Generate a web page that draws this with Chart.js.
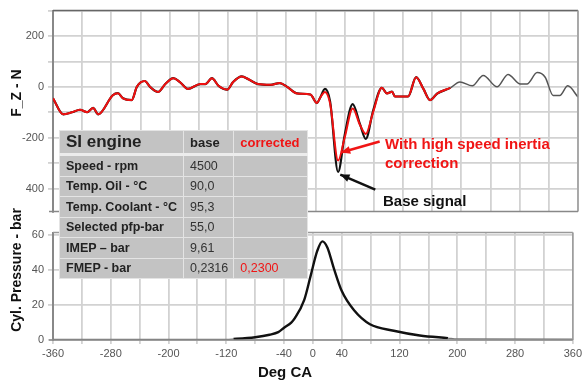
<!DOCTYPE html>
<html>
<head>
<meta charset="utf-8">
<script src="https://cdn.jsdelivr.net/npm/chart.js@4.4.1/dist/chart.umd.min.js"></script>
<style>
  body { margin: 0; background: #fff; font-family: "Liberation Sans", Arial, sans-serif; }
  #wrap { position: relative; width: 585px; height: 380px; overflow: hidden; }
  canvas { position: absolute; left: 0; }
  .ytitle { position: absolute; font-weight: bold; font-size: 14px; color: #111; white-space: nowrap;
            transform: translate(-50%, -50%) rotate(-90deg); line-height: 14px; }
  #xtitle { position: absolute; left: 285px; top: 364px; transform: translateX(-50%);
            font-weight: bold; font-size: 15px; color: #111; line-height: 15px; }
  table { position: absolute; left: 59px; top: 130px; width: 249px; border-collapse: collapse; }
  td { background: #c3c3c3; border: 1px solid #e4e4e4; padding: 0 0 0 6px; height: 19.5px;
       font-size: 12.5px; color: #333; white-space: nowrap; }
  td.lab { font-weight: bold; color: #222; width: 117px; }
  tr.head td { height: 22px; border-bottom: 3px solid #ececec; font-weight: bold; font-size: 13px; color: #222; }
  tr.head td.lab { font-size: 17px; }
  .red { color: #f01515 !important; }
</style>
</head>
<body>
<div id="wrap">
  <canvas id="forceChart" width="585" height="222" style="top:0"></canvas>
  <canvas id="pressChart" width="585" height="158" style="top:222px"></canvas>
  <div class="ytitle" style="left:16px;top:93px">F_Z - N</div>
  <div class="ytitle" style="left:16px;top:270px">Cyl. Pressure - bar</div>
  <div id="xtitle">Deg CA</div>
  <table id="info"></table>
</div>
<script>
// crank angle axis
const xTickLabels = [-360, -280, -200, -120, -40, 0, 40, 120, 200, 280, 360];

// F_Z force signal (N)
const forceDeg = [-360, -346, -334, -323, -313, -305, -298, -278, -271, -264, -252, -245, -234, -227, -216,
  -206, -195, -186, -175, -158, -151, -142, -133, -121, -113, -101, -92, -79, -62, -49, -39, -25, -7, 2, 6,
  13, 20, 31, 40, 51, 61, 69, 79, 91, 98, 105, 109, 116, 127, 138, 148, 157, 167, 185,
  198, 215, 230, 249, 264, 281, 290, 304, 315, 326, 335, 346, 360];
const baseForce = [-45, -108, -100, -90, -100, -83, -108, -33, -25, -45, -52, 0, 23, 0, -20,
  11, 34, 19, -8, 11, 11, 34, 4, -11, 19, 41, 30, 11, 8, 15, 0, -26, -30, -64, -45,
  -8, -57, -335, -190, -68, -147, -205, -94, -4, -26, -19, -38, -38, -38, 38, -8, -52, -26, -4,
  19, 4, 45, 0, 49, 11, 11, 56, 38, -34, -34, 4, -40];
const corrForce = [-45, -108, -100, -90, -100, -83, -108, -33, -25, -45, -52, 0, 23, 0, -20,
  11, 34, 19, -8, 11, 11, 34, 4, -11, 19, 41, 30, 11, 8, 15, 0, -26, -30, -64, -45,
  -20, -65, -290, -200, -85, -150, -185, -100, -4, -26, -19, -38, -38, -38, 38, -8, -52, -26, -4,
  null, null, null, null, null, null, null, null, null, null, null, null, null];
const forceTicks = [-400, -300, -200, -100, 0, 100, 200, 300];
const forceTickText = { "200": "200", "0": "0", "-200": "-200", "-400": "400" };

// cylinder pressure (bar)
const pressDeg = [-360, -120, -110, -80, -60, -48, -40, -30, -25, -12, -3, 6, 13, 20, 29, 40, 57, 79, 112, 148, 187, 200, 360];
const pressVal = [0.4, 0.4, 0.6, 1.6, 3, 4.5, 7, 10, 12.5, 23, 37, 51, 56.5, 53, 41, 28, 17, 9, 5.3, 2.6, 1.1, 0.6, 0.5];
const pressTicks = [0, 20, 40, 60];

// table
const tableRows = [
  ["SI engine", "base", "corrected"],
  ["Speed - rpm", "4500", ""],
  ["Temp. Oil - °C", "90,0", ""],
  ["Temp. Coolant - °C", "95,3", ""],
  ["Selected pfp-bar", "55,0", ""],
  ["IMEP – bar", "9,61", ""],
  ["FMEP - bar", "0,2316", "0,2300"]
];

const table = document.getElementById("info");
tableRows.forEach((row, i) => {
  const tr = document.createElement("tr");
  if (i === 0) tr.className = "head";
  row.forEach((cell, j) => {
    const td = document.createElement("td");
    td.textContent = cell;
    if (j === 0) td.className = "lab";
    if (j === 2) td.classList.add("red");
    tr.appendChild(td);
  });
  table.appendChild(tr);
});

const gridColor = "#d2d2d2";
const tickFont = { family: "Liberation Sans, Arial", size: 11 };

// top and right border of each panel
const frame = {
  id: "frame",
  afterDraw(chart, args, opts) {
    const { ctx, chartArea: a } = chart;
    ctx.save();
    ctx.lineWidth = 1.5;
    ctx.strokeStyle = opts.top;
    ctx.beginPath();
    ctx.moveTo(a.left, a.top);
    ctx.lineTo(a.right, a.top);
    ctx.stroke();
    ctx.strokeStyle = "#9a9a9a";
    ctx.beginPath();
    ctx.moveTo(a.right, a.top);
    ctx.lineTo(a.right, a.bottom);
    ctx.stroke();
    ctx.strokeStyle = "#888";
    ctx.beginPath();
    ctx.moveTo(a.left - 4, a.bottom);
    ctx.lineTo(a.right, a.bottom);
    ctx.stroke();
    ctx.restore();
  }
};

function arrow(ctx, x0, y0, x1, y1, color) {
  ctx.strokeStyle = color;
  ctx.fillStyle = color;
  ctx.lineWidth = 2.5;
  ctx.beginPath();
  ctx.moveTo(x0, y0);
  ctx.lineTo(x1, y1);
  ctx.stroke();
  const ang = Math.atan2(y1 - y0, x1 - x0);
  ctx.beginPath();
  ctx.moveTo(x1, y1);
  ctx.lineTo(x1 - 10 * Math.cos(ang - 0.4), y1 - 10 * Math.sin(ang - 0.4));
  ctx.lineTo(x1 - 10 * Math.cos(ang + 0.4), y1 - 10 * Math.sin(ang + 0.4));
  ctx.closePath();
  ctx.fill();
}

const notes = {
  id: "notes",
  afterDatasetsDraw(chart) {
    const { ctx, scales: { x, y } } = chart;
    ctx.save();
    arrow(ctx, x.getPixelForValue(88), y.getPixelForValue(-215), x.getPixelForValue(35), y.getPixelForValue(-258), "#f01515");
    arrow(ctx, x.getPixelForValue(82), y.getPixelForValue(-404), x.getPixelForValue(34), y.getPixelForValue(-345), "#111");
    ctx.font = "bold 15px Liberation Sans, Arial";
    ctx.textBaseline = "middle";
    ctx.fillStyle = "#f01515";
    ctx.fillText("With high speed inertia", 385, 145);
    ctx.fillText("correction", 385, 164);
    ctx.fillStyle = "#111";
    ctx.fillText("Base signal", 383, 202);
    ctx.restore();
  }
};

const xScale = (showLabels) => ({
  type: "linear",
  min: -360,
  max: 360,
  afterBuildTicks: (s) => {
    const t = [];
    for (let v = -360; v <= 360; v += 40) t.push({ value: v });
    s.ticks = t;
  },
  ticks: {
    display: showLabels,
    autoSkip: false,
    maxRotation: 0,
    padding: 3,
    color: "#555",
    font: tickFont,
    callback: (v) => (xTickLabels.includes(v) ? String(v) : "")
  },
  grid: { color: gridColor, lineWidth: 1.8, tickLength: showLabels ? 4 : 0 },
  border: { display: false },
  afterFit: (s) => { s.height = showLabels ? 22 : 0; }
});

new Chart(document.getElementById("forceChart"), {
  type: "line",
  data: {
    datasets: [
      {
        data: forceDeg.map((d, i) => ({ x: d, y: corrForce[i] })),
        borderColor: "#f01010",
        borderWidth: 2,
        order: 0
      },
      {
        data: forceDeg.map((d, i) => ({ x: d, y: baseForce[i] })),
        borderColor: "#111",
        borderWidth: 2.2,
        order: 1,
        segment: {
          borderColor: (c) => (c.p0.parsed.x >= 185 ? "#555" : "#111"),
          borderWidth: (c) => (c.p0.parsed.x >= 185 ? 1.5 : 2.2)
        }
      }
    ]
  },
  options: {
    responsive: false,
    animation: false,
    events: [],
    layout: { padding: { left: 0, right: 7, top: 10, bottom: 2 } },
    elements: { point: { radius: 0 }, line: { cubicInterpolationMode: "monotone" } },
    plugins: { legend: { display: false }, tooltip: { enabled: false }, frame: { top: "#666" } },
    scales: {
      x: xScale(false),
      y: {
        min: -490,
        max: 300,
        afterBuildTicks: (s) => { s.ticks = forceTicks.map((v) => ({ value: v })); },
        ticks: { padding: 4, color: "#555", font: tickFont, callback: (v) => forceTickText[String(v)] || "" },
        grid: { color: gridColor, lineWidth: 1.8, tickLength: 5 },
        border: { color: "#888", width: 2 },
        afterFit: (s) => { s.width = 53; }
      }
    }
  },
  plugins: [frame, notes]
});

new Chart(document.getElementById("pressChart"), {
  type: "line",
  data: {
    datasets: [
      {
        data: pressDeg.map((d, i) => ({ x: d, y: pressVal[i] })),
        borderColor: "#111",
        borderWidth: 2.4,
        segment: {
          borderColor: (c) => (c.p0.parsed.x < -115 || c.p0.parsed.x >= 187 ? "#777" : "#111"),
          borderWidth: (c) => (c.p0.parsed.x < -115 || c.p0.parsed.x >= 187 ? 1.3 : 2.4)
        }
      }
    ]
  },
  options: {
    responsive: false,
    animation: false,
    events: [],
    layout: { padding: { left: 0, right: 7, top: 2, bottom: 18 } },
    elements: { point: { radius: 0 }, line: { cubicInterpolationMode: "monotone" } },
    plugins: { legend: { display: false }, tooltip: { enabled: false }, frame: { top: "#999" } },
    scales: {
      x: xScale(true),
      y: {
        min: 0,
        max: 61.5,
        afterBuildTicks: (s) => { s.ticks = pressTicks.map((v) => ({ value: v })); },
        ticks: { padding: 4, color: "#555", font: tickFont },
        grid: { color: gridColor, lineWidth: 1.8, tickLength: 5 },
        border: { color: "#888", width: 2 },
        afterFit: (s) => { s.width = 53; }
      }
    }
  },
  plugins: [frame]
});
</script>
</body>
</html>
